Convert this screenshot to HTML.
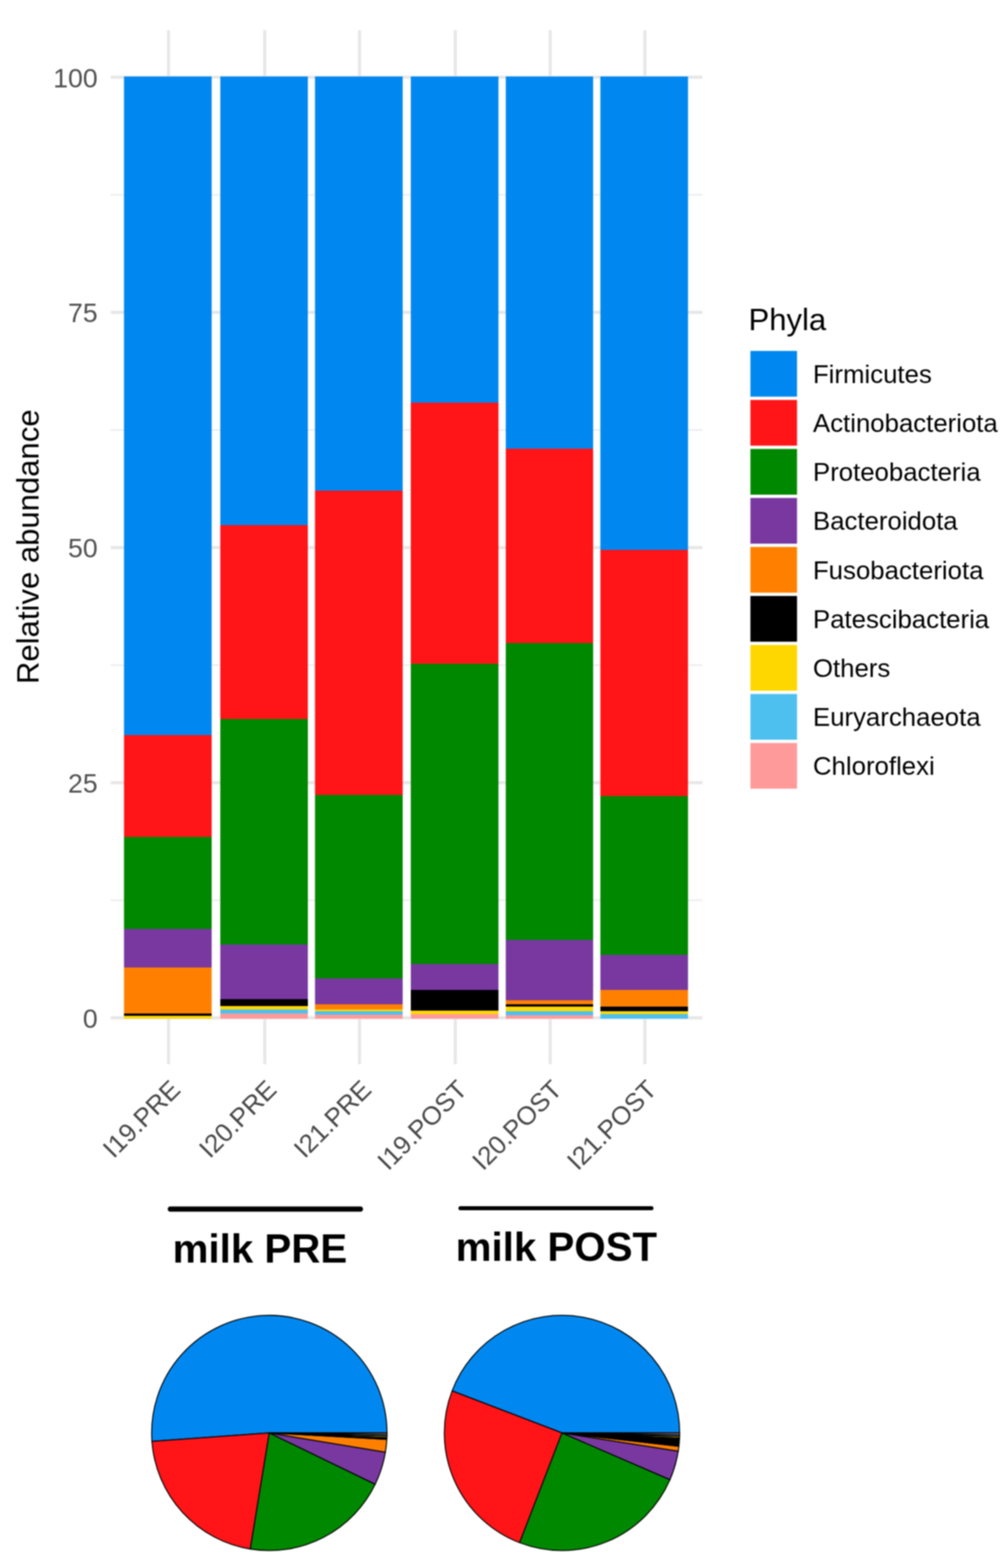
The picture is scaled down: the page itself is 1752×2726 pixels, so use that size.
<!DOCTYPE html>
<html><head><meta charset="utf-8"><title>Phyla relative abundance</title>
<style>
html,body{margin:0;padding:0;background:#fff;}
body{width:1752px;height:2726px;overflow:hidden;}
svg{display:block;filter:blur(1px);}
text{font-family:"Liberation Sans",Arial,sans-serif;}
.tk{font-size:45px;fill:#474747;}
.yt{font-size:46.3px;fill:#505050;}
.ttl{font-size:54px;fill:#000;}
.lg{font-size:44.8px;fill:#000;}
.big{font-size:70px;font-weight:bold;fill:#000;}
</style></head>
<body>
<svg width="1752" height="2726" viewBox="0 0 1752 2726">
<rect width="1752" height="2726" fill="#fff"/>
<line x1="192.5" x2="1221.0" y1="1565.10" y2="1565.10" stroke="#EEEEEE" stroke-width="3"/>
<line x1="192.5" x2="1221.0" y1="1156.30" y2="1156.30" stroke="#EEEEEE" stroke-width="3"/>
<line x1="192.5" x2="1221.0" y1="747.50" y2="747.50" stroke="#EEEEEE" stroke-width="3"/>
<line x1="192.5" x2="1221.0" y1="338.70" y2="338.70" stroke="#EEEEEE" stroke-width="3"/>
<line x1="192.5" x2="1221.0" y1="1769.50" y2="1769.50" stroke="#E7E7E7" stroke-width="5.5"/>
<line x1="192.5" x2="1221.0" y1="1360.70" y2="1360.70" stroke="#E7E7E7" stroke-width="5.5"/>
<line x1="192.5" x2="1221.0" y1="951.90" y2="951.90" stroke="#E7E7E7" stroke-width="5.5"/>
<line x1="192.5" x2="1221.0" y1="543.10" y2="543.10" stroke="#E7E7E7" stroke-width="5.5"/>
<line x1="192.5" x2="1221.0" y1="134.30" y2="134.30" stroke="#E7E7E7" stroke-width="5.5"/>
<line x1="292.90" x2="292.90" y1="52.5" y2="1850.0" stroke="#E7E7E7" stroke-width="5.5"/>
<line x1="460.20" x2="460.20" y1="52.5" y2="1850.0" stroke="#E7E7E7" stroke-width="5.5"/>
<line x1="624.90" x2="624.90" y1="52.5" y2="1850.0" stroke="#E7E7E7" stroke-width="5.5"/>
<line x1="791.40" x2="791.40" y1="52.5" y2="1850.0" stroke="#E7E7E7" stroke-width="5.5"/>
<line x1="956.20" x2="956.20" y1="52.5" y2="1850.0" stroke="#E7E7E7" stroke-width="5.5"/>
<line x1="1120.85" x2="1120.85" y1="52.5" y2="1850.0" stroke="#E7E7E7" stroke-width="5.5"/>
<rect x="215.5" y="133" width="152.4" height="1145" fill="#0088F0"/>
<rect x="215.5" y="1278" width="152.4" height="177" fill="#FF1418"/>
<rect x="215.5" y="1455" width="152.4" height="160" fill="#008800"/>
<rect x="215.5" y="1615" width="152.4" height="67" fill="#7838A0"/>
<rect x="215.5" y="1682" width="152.4" height="80" fill="#FF8000"/>
<rect x="215.5" y="1762" width="152.4" height="4" fill="#000000"/>
<rect x="215.5" y="1766" width="152.4" height="5" fill="#FFD700"/>
<rect x="382.9" y="133" width="152.2" height="780" fill="#0088F0"/>
<rect x="382.9" y="913" width="152.2" height="337" fill="#FF1418"/>
<rect x="382.9" y="1250" width="152.2" height="392" fill="#008800"/>
<rect x="382.9" y="1642" width="152.2" height="95" fill="#7838A0"/>
<rect x="382.9" y="1737" width="152.2" height="12" fill="#000000"/>
<rect x="382.9" y="1749" width="152.2" height="6" fill="#FFD700"/>
<rect x="382.9" y="1755" width="152.2" height="7" fill="#4DC0EF"/>
<rect x="382.9" y="1762" width="152.2" height="9" fill="#FF9A9A"/>
<rect x="547.5" y="133" width="152.4" height="720" fill="#0088F0"/>
<rect x="547.5" y="853" width="152.4" height="529" fill="#FF1418"/>
<rect x="547.5" y="1382" width="152.4" height="319" fill="#008800"/>
<rect x="547.5" y="1701" width="152.4" height="45" fill="#7838A0"/>
<rect x="547.5" y="1746" width="152.4" height="9" fill="#FF8000"/>
<rect x="547.5" y="1755" width="152.4" height="3" fill="#FFD700"/>
<rect x="547.5" y="1758" width="152.4" height="6" fill="#4DC0EF"/>
<rect x="547.5" y="1764" width="152.4" height="7" fill="#FF9A9A"/>
<rect x="714.0" y="133" width="152.4" height="567" fill="#0088F0"/>
<rect x="714.0" y="700" width="152.4" height="454" fill="#FF1418"/>
<rect x="714.0" y="1154" width="152.4" height="522" fill="#008800"/>
<rect x="714.0" y="1676" width="152.4" height="45" fill="#7838A0"/>
<rect x="714.0" y="1721" width="152.4" height="36" fill="#000000"/>
<rect x="714.0" y="1757" width="152.4" height="6" fill="#FFD700"/>
<rect x="714.0" y="1763" width="152.4" height="8" fill="#FF9A9A"/>
<rect x="879.1" y="133" width="151.8" height="647" fill="#0088F0"/>
<rect x="879.1" y="780" width="151.8" height="338" fill="#FF1418"/>
<rect x="879.1" y="1118" width="151.8" height="516" fill="#008800"/>
<rect x="879.1" y="1634" width="151.8" height="105" fill="#7838A0"/>
<rect x="879.1" y="1739" width="151.8" height="7" fill="#FF8000"/>
<rect x="879.1" y="1746" width="151.8" height="4" fill="#000000"/>
<rect x="879.1" y="1750" width="151.8" height="8" fill="#FFD700"/>
<rect x="879.1" y="1758" width="151.8" height="7" fill="#4DC0EF"/>
<rect x="879.1" y="1765" width="151.8" height="6" fill="#FF9A9A"/>
<rect x="1043.5" y="133" width="152.3" height="823" fill="#0088F0"/>
<rect x="1043.5" y="956" width="152.3" height="428" fill="#FF1418"/>
<rect x="1043.5" y="1384" width="152.3" height="276" fill="#008800"/>
<rect x="1043.5" y="1660" width="152.3" height="61" fill="#7838A0"/>
<rect x="1043.5" y="1721" width="152.3" height="29" fill="#FF8000"/>
<rect x="1043.5" y="1750" width="152.3" height="8" fill="#000000"/>
<rect x="1043.5" y="1758" width="152.3" height="5" fill="#FFD700"/>
<rect x="1043.5" y="1763" width="152.3" height="8" fill="#4DC0EF"/>
<text x="169.7" y="1786.80" class="yt" text-anchor="end">0</text>
<text x="169.7" y="1378.00" class="yt" text-anchor="end">25</text>
<text x="169.7" y="969.20" class="yt" text-anchor="end">50</text>
<text x="169.7" y="560.40" class="yt" text-anchor="end">75</text>
<text x="169.7" y="151.60" class="yt" text-anchor="end">100</text>
<text class="tk" text-anchor="end" transform="translate(316.00,1897) rotate(-45)">I19.PRE</text>
<text class="tk" text-anchor="end" transform="translate(483.30,1897) rotate(-45)">I20.PRE</text>
<text class="tk" text-anchor="end" transform="translate(648.00,1897) rotate(-45)">I21.PRE</text>
<text class="tk" text-anchor="end" transform="translate(814.50,1897) rotate(-45)">I19.POST</text>
<text class="tk" text-anchor="end" transform="translate(979.30,1897) rotate(-45)">I20.POST</text>
<text class="tk" text-anchor="end" transform="translate(1143.95,1897) rotate(-45)">I21.POST</text>
<text class="ttl" text-anchor="middle" transform="translate(67.3,950.5) rotate(-90)">Relative abundance</text>
<text class="ttl" x="1301" y="573.6">Phyla</text>
<rect x="1304.3" y="610.10" width="81" height="79.5" fill="#0088F0"/>
<text class="lg" x="1413" y="665.85">Firmicutes</text>
<rect x="1304.3" y="695.30" width="81" height="79.5" fill="#FF1418"/>
<text class="lg" x="1413" y="751.05">Actinobacteriota</text>
<rect x="1304.3" y="780.50" width="81" height="79.5" fill="#008800"/>
<text class="lg" x="1413" y="836.25">Proteobacteria</text>
<rect x="1304.3" y="865.70" width="81" height="79.5" fill="#7838A0"/>
<text class="lg" x="1413" y="921.45">Bacteroidota</text>
<rect x="1304.3" y="950.90" width="81" height="79.5" fill="#FF8000"/>
<text class="lg" x="1413" y="1006.65">Fusobacteriota</text>
<rect x="1304.3" y="1036.10" width="81" height="79.5" fill="#000000"/>
<text class="lg" x="1413" y="1091.85">Patescibacteria</text>
<rect x="1304.3" y="1121.30" width="81" height="79.5" fill="#FFD700"/>
<text class="lg" x="1413" y="1177.05">Others</text>
<rect x="1304.3" y="1206.50" width="81" height="79.5" fill="#4DC0EF"/>
<text class="lg" x="1413" y="1262.25">Euryarchaeota</text>
<rect x="1304.3" y="1291.70" width="81" height="79.5" fill="#FF9A9A"/>
<text class="lg" x="1413" y="1347.45">Chloroflexi</text>
<line x1="296" x2="626.5" y1="2102" y2="2102" stroke="#000" stroke-width="9" stroke-linecap="round"/>
<line x1="800.3" x2="1132.3" y1="2100.5" y2="2100.5" stroke="#000" stroke-width="7" stroke-linecap="round"/>
<text class="big" x="300" y="2194.6">milk PRE</text>
<text class="big" x="792" y="2192.1">milk POST</text>
<path d="M468.10,2491.20 L672.60,2491.20 A204.5,204.5 0 1 0 264.12,2505.82 Z" fill="#0088F0" stroke="#000" stroke-width="1.8" stroke-linejoin="round"/>
<path d="M468.10,2491.20 L264.12,2505.82 A204.5,204.5 0 0 0 435.05,2693.01 Z" fill="#FF1418" stroke="#000" stroke-width="1.8" stroke-linejoin="round"/>
<path d="M468.10,2491.20 L435.05,2693.01 A204.5,204.5 0 0 0 652.14,2580.37 Z" fill="#008800" stroke="#000" stroke-width="1.8" stroke-linejoin="round"/>
<path d="M468.10,2491.20 L652.14,2580.37 A204.5,204.5 0 0 0 669.85,2524.60 Z" fill="#7838A0" stroke="#000" stroke-width="1.8" stroke-linejoin="round"/>
<path d="M468.10,2491.20 L669.85,2524.60 A204.5,204.5 0 0 0 672.30,2502.26 Z" fill="#FF8000" stroke="#000" stroke-width="1.8" stroke-linejoin="round"/>
<path d="M468.10,2491.20 L672.30,2502.26 A204.5,204.5 0 0 0 672.44,2499.41 Z" fill="#000000" stroke="#000" stroke-width="1.8" stroke-linejoin="round"/>
<path d="M468.10,2491.20 L672.44,2499.41 A204.5,204.5 0 0 0 672.53,2496.55 Z" fill="#FFD700" stroke="#000" stroke-width="1.8" stroke-linejoin="round"/>
<path d="M468.10,2491.20 L672.53,2496.55 A204.5,204.5 0 0 0 672.58,2493.88 Z" fill="#4DC0EF" stroke="#000" stroke-width="1.8" stroke-linejoin="round"/>
<path d="M468.10,2491.20 L672.58,2493.88 A204.5,204.5 0 0 0 672.60,2491.20 Z" fill="#FF9A9A" stroke="#000" stroke-width="1.8" stroke-linejoin="round"/>
<path d="M976.80,2491.20 L1181.30,2491.20 A204.5,204.5 0 0 0 785.83,2418.05 Z" fill="#0088F0" stroke="#000" stroke-width="1.8" stroke-linejoin="round"/>
<path d="M976.80,2491.20 L785.83,2418.05 A204.5,204.5 0 0 0 903.18,2681.99 Z" fill="#FF1418" stroke="#000" stroke-width="1.8" stroke-linejoin="round"/>
<path d="M976.80,2491.20 L903.18,2681.99 A204.5,204.5 0 0 0 1164.48,2572.42 Z" fill="#008800" stroke="#000" stroke-width="1.8" stroke-linejoin="round"/>
<path d="M976.80,2491.20 L1164.48,2572.42 A204.5,204.5 0 0 0 1178.84,2522.84 Z" fill="#7838A0" stroke="#000" stroke-width="1.8" stroke-linejoin="round"/>
<path d="M976.80,2491.20 L1178.84,2522.84 A204.5,204.5 0 0 0 1179.99,2514.35 Z" fill="#FF8000" stroke="#000" stroke-width="1.8" stroke-linejoin="round"/>
<path d="M976.80,2491.20 L1179.99,2514.35 A204.5,204.5 0 0 0 1181.11,2500.12 Z" fill="#000000" stroke="#000" stroke-width="1.8" stroke-linejoin="round"/>
<path d="M976.80,2491.20 L1181.11,2500.12 A204.5,204.5 0 0 0 1181.21,2497.27 Z" fill="#FFD700" stroke="#000" stroke-width="1.8" stroke-linejoin="round"/>
<path d="M976.80,2491.20 L1181.21,2497.27 A204.5,204.5 0 0 0 1181.28,2494.23 Z" fill="#4DC0EF" stroke="#000" stroke-width="1.8" stroke-linejoin="round"/>
<path d="M976.80,2491.20 L1181.28,2494.23 A204.5,204.5 0 0 0 1181.30,2491.20 Z" fill="#FF9A9A" stroke="#000" stroke-width="1.8" stroke-linejoin="round"/>
</svg>
</body></html>
